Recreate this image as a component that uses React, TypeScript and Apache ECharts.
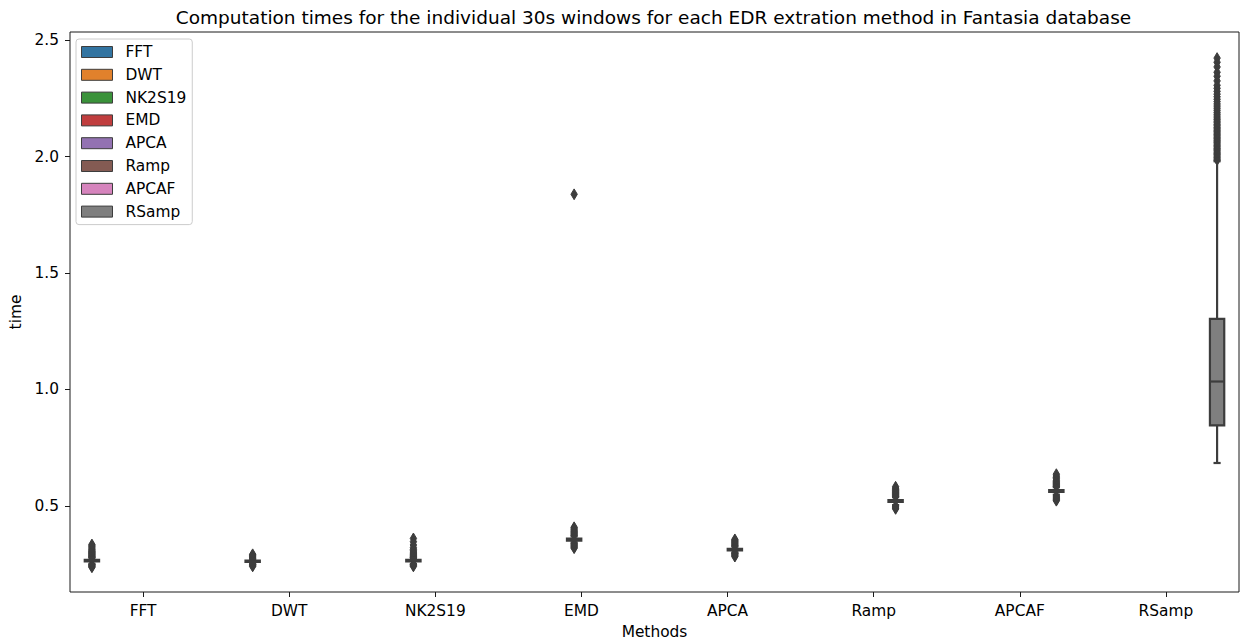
import React, { useEffect, useRef } from "react";
import * as echarts from "echarts";

const methods = ["FFT", "DWT", "NK2S19", "EMD", "APCA", "Ramp", "APCAF", "RSamp"];
const colors = ["#3274a1", "#e1812c", "#3a923a", "#c03d3e", "#9372b2", "#845b53", "#d684bd", "#7f7f7f"];
const lineColor = "#3d3d3d";

// [lower whisker, Q1, median, Q3, upper whisker]
const boxStats: number[][] = [
  [0.251, 0.2615, 0.265, 0.268, 0.277],
  [0.251, 0.259, 0.262, 0.265, 0.272],
  [0.251, 0.2615, 0.265, 0.268, 0.276],
  [0.343, 0.351, 0.355, 0.359, 0.369],
  [0.300, 0.309, 0.312, 0.315, 0.325],
  [0.503, 0.517, 0.521, 0.525, 0.537],
  [0.548, 0.560, 0.564, 0.568, 0.580],
  [0.684, 0.846, 1.034, 1.303, 1.980],
];

const outFFT = [0.236, 0.239, 0.242, 0.245, 0.248, 0.279, 0.282, 0.285, 0.288, 0.291, 0.294, 0.297, 0.300, 0.303, 0.306, 0.310, 0.314, 0.319, 0.324, 0.329, 0.334];
const outDWT = [0.240, 0.244, 0.248, 0.276, 0.280, 0.284, 0.288, 0.292];
const outNK = [0.240, 0.244, 0.248, 0.278, 0.282, 0.286, 0.290, 0.294, 0.298, 0.302, 0.307, 0.313, 0.320, 0.332, 0.346, 0.360];
const outEMD = [0.318, 0.322, 0.326, 0.330, 0.334, 0.338, 0.373, 0.377, 0.381, 0.385, 0.389, 0.393, 0.398, 0.404, 0.408, 1.838];
const outAPCA = [0.282, 0.286, 0.290, 0.294, 0.297, 0.328, 0.332, 0.336, 0.340, 0.344, 0.348, 0.352, 0.356];
const outRamp = [0.487, 0.491, 0.495, 0.499, 0.541, 0.545, 0.549, 0.553, 0.557, 0.561, 0.566, 0.571, 0.576, 0.582];
const outAPCAF = [0.522, 0.526, 0.530, 0.534, 0.538, 0.542, 0.584, 0.588, 0.592, 0.596, 0.600, 0.605, 0.610, 0.616, 0.622, 0.628, 0.636];
const outRSamp = [1.985, 1.990, 1.996, 2.002, 2.008, 2.013, 2.019, 2.025, 2.031, 2.036, 2.042, 2.048, 2.054, 2.060, 2.066, 2.071, 2.077, 2.083, 2.089, 2.095, 2.101, 2.107, 2.113, 2.119, 2.125, 2.132, 2.138, 2.145, 2.152, 2.159, 2.166, 2.174, 2.182, 2.190, 2.199, 2.208, 2.217, 2.226, 2.236, 2.246, 2.257, 2.268, 2.280, 2.293, 2.306, 2.325, 2.345, 2.362, 2.385, 2.405, 2.423];
const outliers = [outFFT, outDWT, outNK, outEMD, outAPCA, outRamp, outAPCAF, outRSamp];

const yTicks = [0.5, 1.0, 1.5, 2.0, 2.5];
const yMin = 0.13;
const yMax = 2.535;

const FONT = "DejaVu Sans";
const TICK_FS = 15.4;

export default function App() {
  const ref = useRef<HTMLDivElement>(null);
  useEffect(() => {
    document.body.style.margin = "0";
    const chart = echarts.init(ref.current!, null, { renderer: "svg" });
    const nHue = methods.length;
    const hueOffset = (hue: number) => (hue - (nHue - 1) / 2) * (0.8 / nHue);

    const boxSeries = methods.map((m, hue) => ({
      type: "custom",
      name: m,
      coordinateSystem: "cartesian2d",
      itemStyle: { color: colors[hue], borderColor: lineColor, borderWidth: 1 },
      encode: { x: 0, y: [1, 2, 3, 4, 5] },
      data: [[hue, ...boxStats[hue]]],
      z: 3,
      renderItem: (params: any, api: any) => {
        const idx = api.value(0);
        const bw = api.size([1, 0])[0];
        const cx = api.coord([idx, api.value(3)])[0] + hueOffset(hue) * bw;
        const hw = ((0.8 / nHue) * 0.98 * bw) / 2;
        const cw = hw / 2;
        const yy = (k: number) => api.coord([idx, api.value(k)])[1];
        const y0 = yy(1), y1 = yy(2), y2 = yy(3), y3 = yy(4), y4 = yy(5);
        const ls = { stroke: lineColor, lineWidth: 2.2, fill: null };
        return {
          type: "group",
          children: [
            { type: "line", shape: { x1: cx, y1: y1, x2: cx, y2: y0 }, style: ls },
            { type: "line", shape: { x1: cx, y1: y3, x2: cx, y2: y4 }, style: ls },
            { type: "line", shape: { x1: cx - cw, y1: y0, x2: cx + cw, y2: y0 }, style: ls },
            { type: "line", shape: { x1: cx - cw, y1: y4, x2: cx + cw, y2: y4 }, style: ls },
            {
              type: "rect",
              shape: { x: cx - hw, y: y3, width: 2 * hw, height: y1 - y3 },
              style: { fill: colors[hue], stroke: lineColor, lineWidth: 2.2 },
            },
            { type: "line", shape: { x1: cx - hw, y1: y2, x2: cx + hw, y2: y2 }, style: ls },
          ],
        };
      },
    }));

    const outlierSeries = methods.map((m, hue) => ({
      type: "custom",
      name: m + " outliers",
      coordinateSystem: "cartesian2d",
      encode: { x: 0, y: 1 },
      data: outliers[hue].map((v) => [hue, v]),
      z: 2,
      renderItem: (params: any, api: any) => {
        const idx = api.value(0);
        const bw = api.size([1, 0])[0];
        const p = api.coord([idx, api.value(1)]);
        const cx = p[0] + hueOffset(hue) * bw;
        const cy = p[1];
        return {
          type: "polygon",
          shape: { points: [[cx, cy - 5.4], [cx + 3.2, cy], [cx, cy + 5.4], [cx - 3.2, cy]] },
          style: { fill: lineColor, stroke: lineColor, lineWidth: 1 },
        };
      },
    }));

    chart.setOption({
      animation: false,
      backgroundColor: "#ffffff",
      textStyle: { fontFamily: FONT },
      grid: {
        left: 68,
        right: 5,
        top: 32,
        bottom: 52,
        show: true,
        borderColor: "#1a1a1a",
        borderWidth: 1,
        backgroundColor: "transparent",
      },
      graphic: [
        {
          type: "text",
          x: 653.5,
          y: 17,
          style: {
            text: "Computation times for the individual 30s windows for each EDR extration method in Fantasia database",
            fontSize: 18.5,
            fontFamily: FONT,
            fill: "#000",
            textAlign: "center",
            textVerticalAlign: "middle",
          },
        },
      ],
      legend: {
        orient: "vertical",
        left: 76,
        top: 39,
        data: methods,
        icon: "rect",
        itemWidth: 31,
        itemHeight: 11,
        itemGap: 6.8,
        padding: [5, 6, 5, 5],
        borderColor: "#cccccc",
        borderWidth: 1,
        borderRadius: 3,
        backgroundColor: "rgba(255,255,255,0.8)",
        itemStyle: { borderColor: lineColor, borderWidth: 1 },
        textStyle: { fontFamily: FONT, fontSize: TICK_FS, color: "#000", lineHeight: 16, padding: [0, 0, 0, 8] },
        selectedMode: false,
      },
      xAxis: {
        type: "category",
        data: methods,
        boundaryGap: true,
        name: "Methods",
        nameLocation: "middle",
        nameGap: 32,
        nameTextStyle: { fontFamily: FONT, fontSize: TICK_FS, color: "#000" },
        axisLine: { show: false },
        axisTick: { show: true, alignWithLabel: true, length: 5, lineStyle: { color: "#1a1a1a", width: 1 } },
        axisLabel: { fontFamily: FONT, fontSize: TICK_FS, color: "#000", margin: 11, interval: 0 },
        splitLine: { show: false },
      },
      yAxis: {
        type: "value",
        min: yMin,
        max: yMax,
        name: "time",
        nameLocation: "middle",
        nameGap: 47,
        nameTextStyle: { fontFamily: FONT, fontSize: TICK_FS, color: "#000" },
        axisLine: { show: false },
        axisTick: { show: true, length: 5, customValues: yTicks, lineStyle: { color: "#1a1a1a", width: 1 } },
        axisLabel: {
          fontFamily: FONT,
          fontSize: TICK_FS,
          color: "#000",
          margin: 11,
          customValues: yTicks,
          formatter: (v: number) => v.toFixed(1),
        },
        splitLine: { show: false },
      },
      series: [...outlierSeries, ...boxSeries],
    });
    return () => chart.dispose();
  }, []);
  return <div ref={ref} style={{ width: 1244, height: 644 }} />;
}
